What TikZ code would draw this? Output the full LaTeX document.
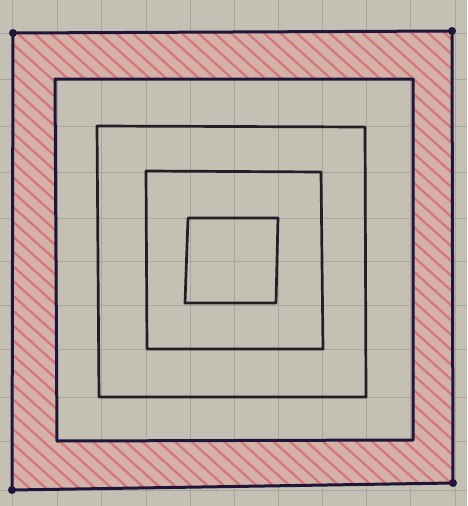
\documentclass[tikz,border=0pt]{standalone}
\usepackage{tikz}
\usetikzlibrary{patterns.meta}

\definecolor{paper}{RGB}{196,192,179}
\definecolor{gridgray}{RGB}{168,166,156}
\definecolor{ink}{RGB}{34,30,38}
\definecolor{navyink}{RGB}{30,22,58}
\definecolor{bandpink}{RGB}{212,178,168}
\definecolor{hatchred}{RGB}{214,118,124}

\begin{document}
\begin{tikzpicture}[
			x=1pt, y=-1pt,
			gridline/.style={draw=gridgray, line width=0.9pt},
			band/.style={fill=bandpink, even odd rule},
			hatch/.style={pattern={Lines[angle=-42,distance=11pt,line width=2.3pt]}, pattern color=hatchred, even odd rule},
			outersq/.style={draw=navyink, line width=3pt, line join=round},
			innersq/.style={draw=ink, line width=2.7pt, line join=round},
			cornerdot/.style={fill=navyink}
			]
			% Papier
			\fill[paper] (0,0) rectangle (467,506);
			\useasboundingbox (0,0) rectangle (467,506);
			\foreach \gx in {12,57,101,146,190,234,278,322,366,410,455}
				\draw[gridline] (\gx,0) -- (\gx,506);
			\foreach \gy in {33,79,126,172,218,261,305,349,397,441,490}
				\draw[gridline] (0,\gy) -- (467,\gy);
			
			% Ecken
			\coordinate (otl) at (13,33);
			\coordinate (otr) at (452,31);
			\coordinate (obr) at (453,483);
			\coordinate (obl) at (12,490);
			\coordinate (atl) at (55,79);
			\coordinate (atr) at (413,79);
			\coordinate (abr) at (413,440);
			\coordinate (abl) at (57,441);
			\coordinate (btl) at (97,126);
			\coordinate (btr) at (365,127);
			\coordinate (bbr) at (366,397);
			\coordinate (bbl) at (99,397);
			\coordinate (ctl) at (146,171);
			\coordinate (ctr) at (321,172);
			\coordinate (cbr) at (323,349);
			\coordinate (cbl) at (147,349);
			\coordinate (dtl) at (188,218);
			\coordinate (dtr) at (278,218);
			\coordinate (dbr) at (276,303);
			\coordinate (dbl) at (185,303);
			
			% Schraffierter Rand
			\fill[band] (otl) -- (otr) -- (obr) -- (obl) -- cycle (atl) -- (atr) -- (abr) -- (abl) -- cycle;
			\fill[hatch] (otl) -- (otr) -- (obr) -- (obl) -- cycle (atl) -- (atr) -- (abr) -- (abl) -- cycle;
			
			% Quadrate
			\draw[outersq] (otl) -- (otr) -- (obr) -- (obl) -- cycle;
			\draw[outersq] (atl) -- (atr) -- (abr) -- (abl) -- cycle;
			\draw[innersq] (btl) -- (btr) -- (bbr) -- (bbl) -- cycle;
			\draw[innersq] (ctl) -- (ctr) -- (cbr) -- (cbl) -- cycle;
			\draw[innersq] (dtl) -- (dtr) -- (dbr) -- (dbl) -- cycle;
			
			% Punkte
			\foreach \p in {otl,otr,obr,obl}
				\fill[cornerdot] (\p) circle (4);
		\end{tikzpicture}
\end{document}
